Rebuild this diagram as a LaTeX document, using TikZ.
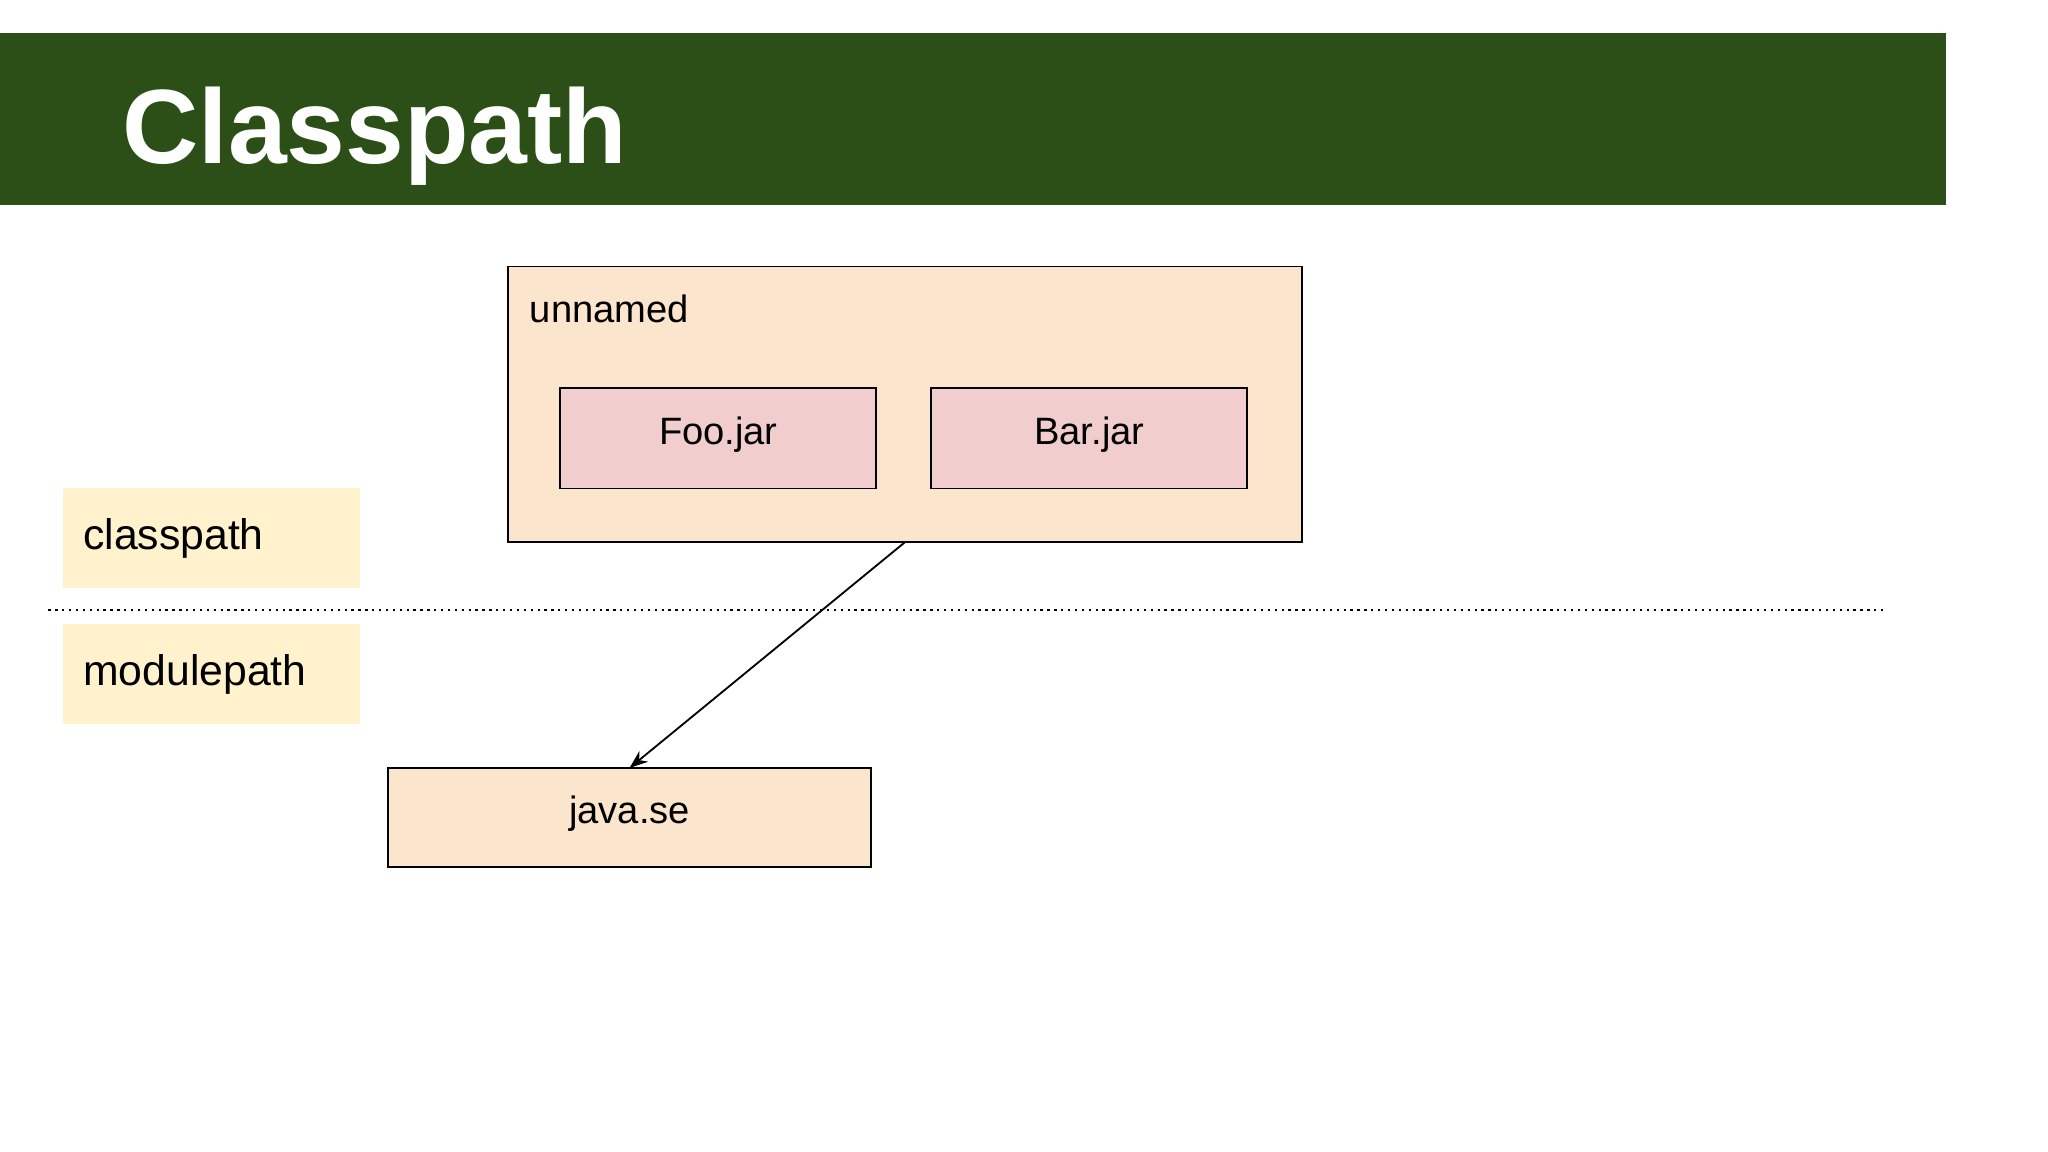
\documentclass[tikz,border=0pt]{standalone}
\usepackage{fontspec}
\setmainfont{Liberation Sans}
\usetikzlibrary{arrows.meta}
\definecolor{banner}{HTML}{2B4F16}
\definecolor{outerfill}{HTML}{FBE5CD}
\definecolor{jarfill}{HTML}{F2CDCD}
\definecolor{labfill}{HTML}{FFF2CC}
\begin{document}
\begin{tikzpicture}[x=0.01cm,y=-0.01cm,
  box/.style={draw=black,line width=0.4pt,inner sep=0pt},
  lab/.style={fill=labfill,inner sep=0pt},
  txt/.style={font=\fontsize{8.3}{10}\selectfont},
  big/.style={font=\fontsize{9.3}{11}\selectfont}]
\useasboundingbox (0,0) rectangle (1568,882);
\fill[white] (0,0) rectangle (1568,882);
\fill[banner] (0,25) rectangle (1490,157);
\node[anchor=base west,text=white,font=\fontsize{23}{26}\bfseries\selectfont,inner sep=0pt] (title) at (93,125) {Classpath};
\draw[box,fill=outerfill] (389,204) rectangle (997,415);
\coordinate (unb) at (693,415);
\node[anchor=base west,txt,inner sep=0pt] (unnamed) at (405,247) {unnamed};
\draw[box,fill=jarfill] (429,297) rectangle (671,374);
\node[txt] (foo) at (550,333) {Foo.jar};
\draw[box,fill=jarfill] (713,297) rectangle (955,374);
\node[txt] (bar) at (834,333) {Bar.jar};
\fill[labfill] (48,374) rectangle (276,450);
\node[anchor=base west,big,inner sep=0pt] (cp) at (63,421) {classpath};
\fill[labfill] (48,478) rectangle (276,554);
\node[anchor=base west,big,inner sep=0pt] (mp) at (63,525) {modulepath};
\coordinate (dl) at (37,467);
\coordinate (dr) at (1445,467);
\draw[densely dotted,line width=0.5pt] (dl) -- (dr);
\draw[box,fill=outerfill] (297,588) rectangle (667,664);
\coordinate (jst) at (482,588);
\node[txt] (javase) at (482,623) {java.se};
\draw[line width=0.4pt,-{Stealth[length=4pt,width=3pt]}] (unb) -- (jst);
\end{tikzpicture}
\end{document}
